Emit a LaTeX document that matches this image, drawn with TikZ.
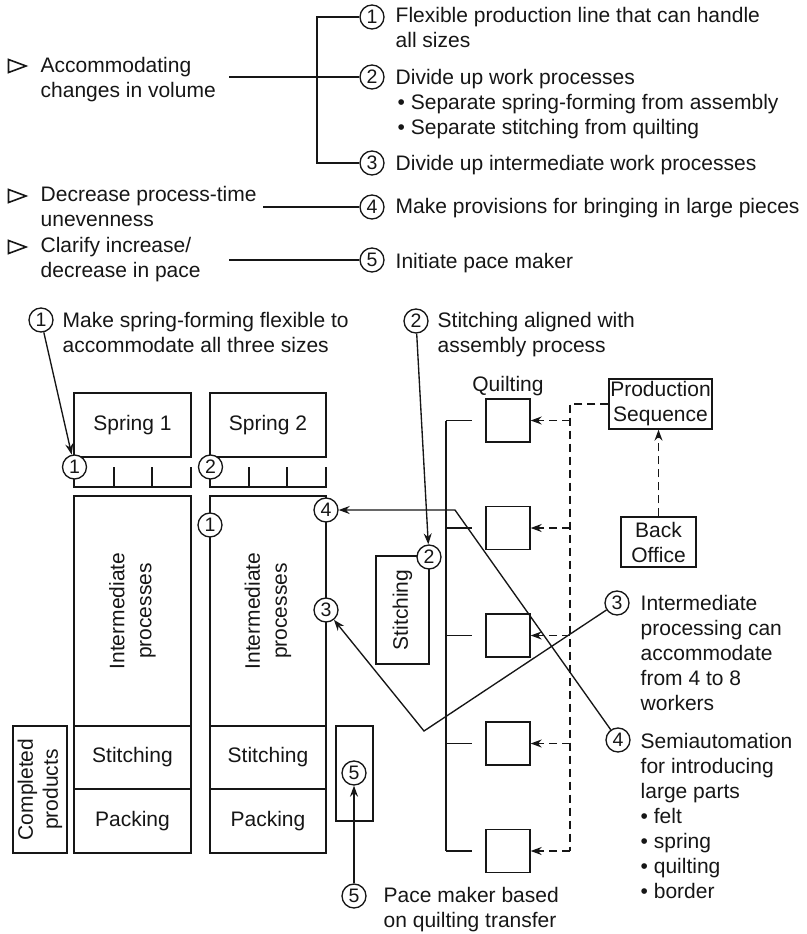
\documentclass[tikz,border=0pt]{standalone}
\usepackage{fontspec}
\setmainfont{Liberation Sans}
\usetikzlibrary{arrows.meta}
\definecolor{ink}{HTML}{161616}
\begin{document}
\begin{tikzpicture}[x=1pt,y=-1pt,color=ink,line width=1.35pt,
  lbl/.style={font=\fontsize{21}{25}\selectfont, inner sep=0pt},
  txt/.style={lbl, anchor=base west, align=left},
  num/.style={circle, draw, fill=white, minimum size=24pt, inner sep=0pt,
              font=\fontsize{19.5}{19.5}\selectfont},
  box/.style={draw, lbl, align=center},
  sq/.style={draw, minimum width=44pt, minimum height=43pt, inner sep=0pt},
  tip/.style={-{Stealth[length=11pt,width=8pt]}},
  dsh/.style={dash pattern=on 8pt off 5pt}]
\useasboundingbox (0,0) rectangle (806,934);

% ---------- goals and measures ----------
% (multi-line texts are placed by the baseline of their last line)
\foreach \yc in {66,196,247}
  \draw[line width=1.6pt, line join=miter] (8.5,\yc-6.5) -- (26,\yc) -- (8.5,\yc+6.5) -- cycle;
\node[txt] (acc) at (40,97) {Accommodating\\changes in volume};
\node[txt] (dec) at (40,226) {Decrease process-time\\unevenness};
\node[txt] (cla) at (40,277) {Clarify increase/\\decrease in pace};

\coordinate (a0) at (229,77);
\coordinate (d0) at (263,207);
\coordinate (c0) at (229,260);
\coordinate (br1) at (317,17);
\coordinate (br3) at (317,163);

\node[num] (t1) at (372,17) {1};
\node[num] (t2) at (372,77) {2};
\node[num] (t3) at (372,163) {3};
\node[num] (t4) at (372,207) {4};
\node[num] (t5) at (372,260) {5};

\draw (t1.west) -- (br1) -- (br3) -- (t3.west);
\draw (a0) -- (t2.west);
\draw (d0) -- (t4.west);
\draw (c0) -- (t5.west);

\node[txt] at (395,48) {Flexible production line that can handle\\all sizes};
\node[txt] at (395,134) {Divide up work processes\\\hspace{2pt}• Separate spring-forming from assembly\\\hspace{2pt}• Separate stitching from quilting};
\node[txt] at (395,170) {Divide up intermediate work processes};
\node[txt] at (395,213) {Make provisions for bringing in large pieces};
\node[txt] at (395,268) {Initiate pace maker};

% ---------- assembly lines ----------
\node[box, minimum width=117pt, minimum height=64pt] (sp1) at (132.5,425) {Spring 1};
\node[box, minimum width=116pt, minimum height=64pt] (sp2) at (268,425) {Spring 2};

\draw (74,467) -- (74,487) -- (191,487) -- (191,467);
\draw (114,467) -- (114,487) (152,467) -- (152,487);
\draw (210,467) -- (210,487) -- (326,487) -- (326,467);
\draw (249,467) -- (249,487) (287,467) -- (287,487);

\node[box, rotate=90, minimum width=230pt, minimum height=117pt,
      font=\fontsize{21}{27}\selectfont] (im1) at (132.5,611) {Intermediate\\processes};
\node[box, rotate=90, minimum width=230pt, minimum height=116pt,
      font=\fontsize{21}{27}\selectfont] (im2) at (268,611) {Intermediate\\processes};
\node[box, minimum width=117pt, minimum height=63pt] (st1) at (132.5,757.5) {Stitching};
\node[box, minimum width=116pt, minimum height=63pt] (st2) at (268,757.5) {Stitching};
\node[box, minimum width=117pt, minimum height=64pt] (pk1) at (132.5,821) {Packing};
\node[box, minimum width=116pt, minimum height=64pt] (pk2) at (268,821) {Packing};
\node[box, rotate=90, minimum width=127pt, minimum height=54pt] (cp) at (40,789.5) {Completed\\products};

\node[box, rotate=90, minimum width=108pt, minimum height=53pt] (sti) at (402.5,610) {Stitching};
\node[draw, minimum width=37pt, minimum height=95pt, inner sep=0pt] (pb) at (354.5,773.5) {};

% ---------- quilting and scheduling ----------
\node[lbl, anchor=base] (ql) at (508,391) {Quilting};
\node[box, minimum width=103pt, minimum height=50pt] (ps) at (660.5,404) {Production\\Sequence};
\node[box, minimum width=75pt, minimum height=50pt] (bo) at (658.5,542) {Back\\Office};
\coordinate (dtop) at (570,404);
\foreach \i/\y in {1/420.5,2/528,3/635.5,4/743.5,5/851} {
  \node[sq] (q\i) at (508,\y) {};
  \coordinate (tr\i) at (446,\y);
  \coordinate (bx\i) at (472,\y);
  \coordinate (dv\i) at (570,\y);
  \draw (tr\i) -- (bx\i);
  \draw[dsh, tip] (dv\i) -- (q\i.east);
}
\draw (tr1) -- (tr5);
\draw[dsh] (ps.west) -- (dtop) -- (dv5);
\draw[dsh, tip] (bo.north) -- (bo.north |- ps.south);

% ---------- numbered markers ----------
\node[num] (s1) at (74.5,467) {1};
\node[num] (s2) at (210.5,467) {2};
\node[num] (d1) at (210,525) {1};
\node[num] (d4) at (326,510) {4};
\node[num] (d3) at (326,610) {3};
\node[num] (c2s) at (429,557) {2};
\node[num] (b5) at (354,773) {5};

% ---------- annotations ----------
\node[num] (m1) at (41,320) {1};
\node[txt] at (62,352) {Make spring-forming flexible to\\accommodate all three sizes};
\node[num] (m2) at (416,321) {2};
\node[txt] at (437,352) {Stitching aligned with\\assembly process};
\draw[tip] (m1) -- (s1);
\draw[tip] (m2) -- (c2s);

\node[num] (r3) at (617,603) {3};
\node[txt] at (640,710.5) {Intermediate\\processing can\\accommodate\\from 4 to 8\\workers};
\node[num] (r4) at (618,740) {4};
\node[txt] at (640,898) {Semiautomation\\for introducing\\large parts\\• felt\\• spring\\• quilting\\• border};
\coordinate (k3) at (424,731);
\coordinate (k4) at (455,510);
\draw[tip] (r3) -- (k3) -- (d3);
\draw[tip] (r4) -- (k4) -- (d4);

\node[num] (p5) at (354,896) {5};
\node[txt] at (383,927) {Pace maker based\\on quilting transfer};
\draw[tip] (p5) -- (b5);
\end{tikzpicture}
\end{document}
